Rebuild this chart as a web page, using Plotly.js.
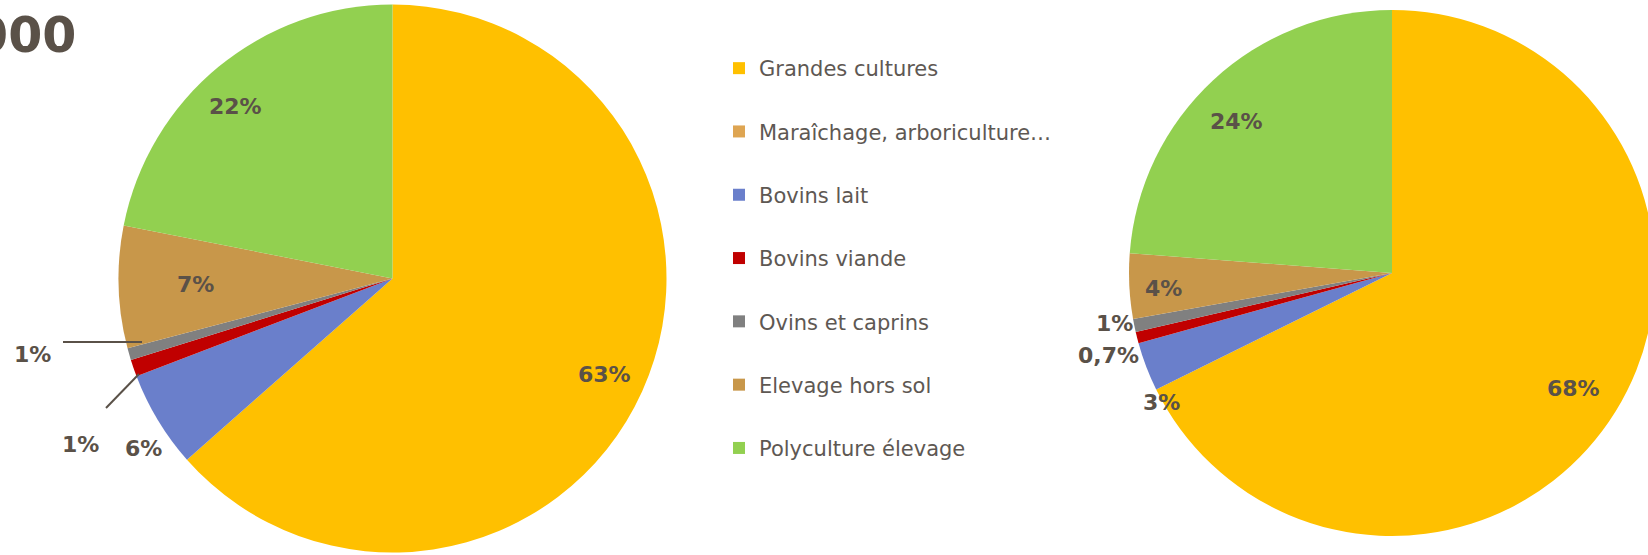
<!DOCTYPE html>
<html>
<head>
<meta charset="utf-8">
<script src="https://cdn.plot.ly/plotly-3.0.1.min.js"></script>
<style>
  html, body { margin: 0; padding: 0; overflow: hidden; background: #ffffff; }
  #chart { width: 1670px; height: 555px; }
</style>
</head>
<body>
<div id="chart"></div>
<script>
// ---------- DATA ----------
const categories = ['Grandes cultures', 'Maraîchage, arboriculture…', 'Bovins lait', 'Bovins viande', 'Ovins et caprins', 'Elevage hors sol', 'Polyculture élevage'];
const valuesLeft  = [63.5, 0, 5.7, 1.0, 0.7, 7.2, 21.9];
const valuesRight = [67.7, 0, 3.0, 0.7, 0.8, 4.0, 23.8];
const textLeft  = ['63%', '', '6%', '1%', '1%', '7%', '22%'];
const textRight = ['68%', '', '3%', '0,7%', '1%', '4%', '24%'];
const titleText = '2000';

// ---------- STYLE / LAYOUT ----------
const W = 1670, H = 555;
const colors = ['#FFC000', '#DEA552', '#6A7FCB', '#C00000', '#808080', '#C8974A', '#92D050'];
const textColor = '#5A5148';
const legendColor = '#5E5853';

// pie geometry (pixels)
const pieLeft  = {cx: 392.5, cy: 278.5, r: 274};
const pieRight = {cx: 1392,  cy: 273,   r: 263};

// label placement: [radial factor, angle offset in degrees]
const placeLeft  = [[0.85, 0], null, [1.10, -3.3], [1.29, -8.9], [1.343, 4.1], [0.72, 0], [0.85, -3.1]];
const placeRight = [[0.817, 0.7], null, [1.003, -8.4], [1.124, -1.9], [1.074, 1.3], [0.87, -1.1], [0.825, -2.8]];

function domainOf(p) {
  return {
    x: [(p.cx - p.r) / W, (p.cx + p.r) / W],
    y: [1 - (p.cy + p.r) / H, 1 - (p.cy - p.r) / H]
  };
}

function pieTrace(vals, p) {
  return {
    type: 'pie',
    labels: categories,
    values: vals,
    sort: false,
    direction: 'clockwise',
    rotation: 0,
    textinfo: 'none',
    hoverinfo: 'label+percent',
    showlegend: false,
    marker: {colors: colors, line: {width: 0}},
    domain: domainOf(p)
  };
}

function labelAnnotations(vals, texts, place, p) {
  const total = vals.reduce((a, b) => a + b, 0);
  let cum = 0;
  const out = [];
  vals.forEach((v, i) => {
    const mid = (cum + v / 2) / total * 360;
    cum += v;
    if (!texts[i] || !place[i]) return;
    const ang = (mid + place[i][1]) * Math.PI / 180;
    const px = p.cx + place[i][0] * p.r * Math.sin(ang);
    const py = p.cy - place[i][0] * p.r * Math.cos(ang);
    out.push({
      xref: 'paper', yref: 'paper',
      x: px / W, y: 1 - py / H,
      xanchor: 'center', yanchor: 'middle',
      text: texts[i], showarrow: false,
      font: {family: 'DejaVu Sans', size: 22, color: textColor, weight: 'bold'}
    });
  });
  return out;
}

// legend entries via empty scatter traces (one group each, for spacing)
const legendTraces = categories.map((c, i) => ({
  type: 'scatter', mode: 'markers',
  x: [null], y: [null],
  name: c, legendgroup: 'g' + i,
  marker: {symbol: 'square', size: 12, color: colors[i]},
  hoverinfo: 'skip'
}));

const data = [pieTrace(valuesLeft, pieLeft), pieTrace(valuesRight, pieRight)].concat(legendTraces);

const annotations = []
  .concat(labelAnnotations(valuesLeft, textLeft, placeLeft, pieLeft))
  .concat(labelAnnotations(valuesRight, textRight, placeRight, pieRight))
  .concat([{
    xref: 'paper', yref: 'paper',
    x: 78 / W, y: 1 - 35 / H,
    xanchor: 'right', yanchor: 'middle',
    text: titleText, showarrow: false,
    font: {family: 'DejaVu Sans', size: 49, color: textColor, weight: 'bold'}
  }]);

// leader lines (pixels)
const leaders = [[63, 342, 142, 342], [106, 408, 139, 374]];
const shapes = leaders.map(l => ({
  type: 'line', xref: 'paper', yref: 'paper',
  x0: l[0] / W, y0: 1 - l[1] / H, x1: l[2] / W, y1: 1 - l[3] / H,
  line: {color: textColor, width: 2}
}));

const layout = {
  width: W, height: H,
  margin: {l: 0, r: 0, t: 0, b: 0, pad: 0},
  paper_bgcolor: '#ffffff', plot_bgcolor: 'rgba(0,0,0,0)',
  showlegend: true,
  legend: {
    x: 719 / W, y: 1 - 48 / H, xanchor: 'left', yanchor: 'top',
    font: {family: 'DejaVu Sans', size: 21, color: legendColor},
    tracegroupgap: 33, itemclick: false, itemdoubleclick: false,
    bgcolor: 'rgba(0,0,0,0)'
  },
  xaxis: {visible: false, domain: [0.45, 0.46]},
  yaxis: {visible: false, domain: [0.45, 0.46]},
  annotations: annotations,
  shapes: shapes
};

Plotly.newPlot('chart', data, layout, {displayModeBar: false, staticPlot: true});
</script>
</body>
</html>
